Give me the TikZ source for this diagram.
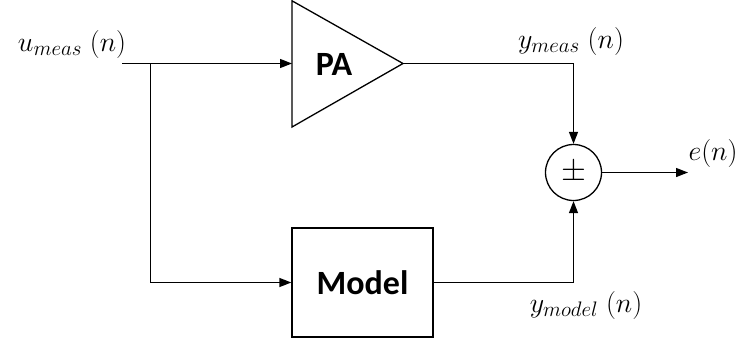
\RequirePackage{fix-cm}
\documentclass[tikz,border=0pt]{standalone}
\usepackage{fontspec}
\setsansfont{Carlito}
\DeclareMathSizes{28}{28}{21}{16}
\usetikzlibrary{arrows.meta}
\begin{document}
\begin{tikzpicture}[x=1pt,y=-1pt, line width=1.3pt,
  arr/.style={-{Triangle[length=12pt,width=9pt]}},
  lbl/.style={font=\fontsize{28}{32}\selectfont, inner sep=0pt},
  blk/.style={font=\sffamily\bfseries\fontsize{34}{40}\selectfont, inner sep=0pt}]
\useasboundingbox (0,0) rectangle (746,343);
% PA amplifier
\coordinate (pain) at (292,63.5);
\coordinate (paout) at (403,63.5);
\draw (292,0.8) -- (292,127) -- (paout) -- cycle;
\node[blk] (pa) at (334,64) {PA};
% Model block
\node[draw, minimum width=141pt, minimum height=109pt, blk] (model) at (362.5,282.5) {Model};
% summing junction
\node[draw, circle, minimum size=56pt, inner sep=0pt] (sum) at (573.5,172.5) {\fontsize{32}{32}\selectfont$\pm$};
% connectors
\coordinate (in) at (122,63.5);
\coordinate (br) at (150.5,63.5);
\coordinate (out) at (688,172.5);
\draw[arr] (in) -- (pain);
\draw[arr] (br) |- (model.west);
\draw[arr] (paout) -| (sum.north);
\draw[arr] (model.east) -| (sum.south);
\draw[arr] (sum.east) -- (out);
% labels
\node[lbl] (u) at (72,44) {$u_{meas}\;(n)$};
\node[lbl] (ym) at (571,41) {$y_{meas}\;(n)$};
\node[lbl] (yo) at (586,305) {$y_{model}\;(n)$};
\node[lbl] (e) at (713,153) {$e(n)$};
\end{tikzpicture}
\end{document}
